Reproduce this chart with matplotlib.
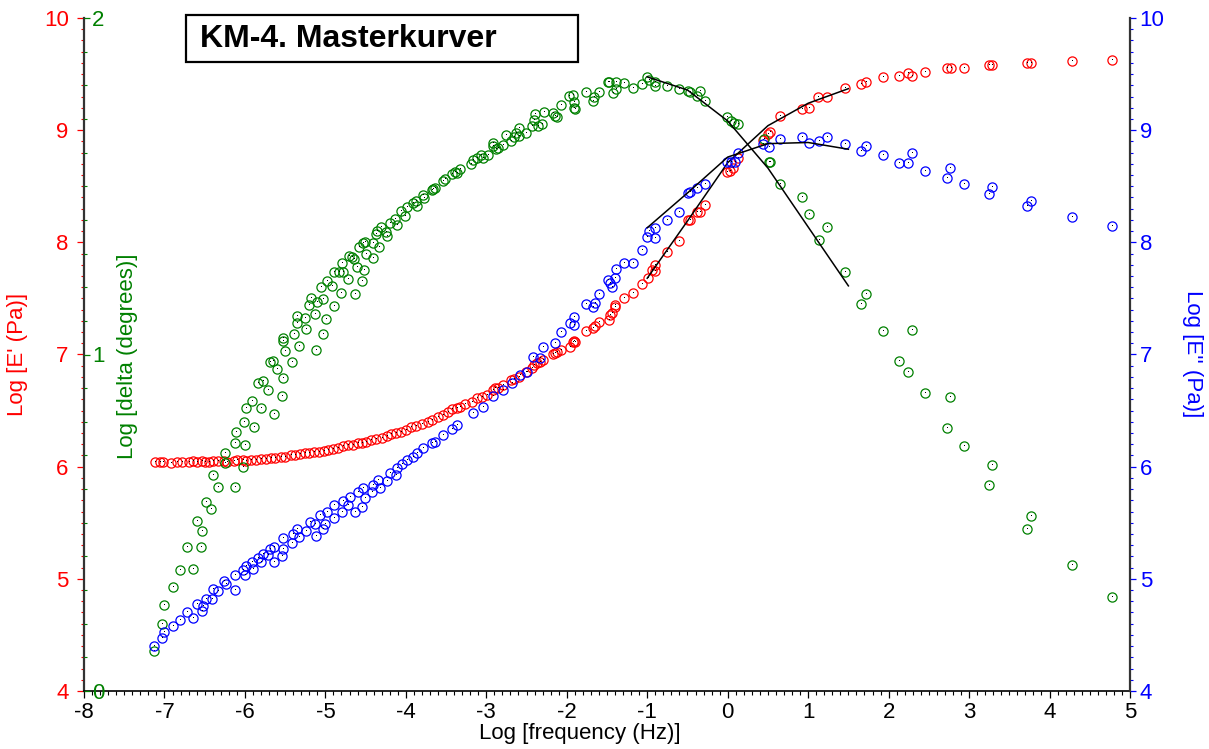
import matplotlib.pyplot as plt
from matplotlib.ticker import MultipleLocator
from matplotlib.patches import Rectangle

plt.rcParams["font.family"] = ["Liberation Sans", "DejaVu Sans"]
plt.rcParams["axes.unicode_minus"] = False

# E' (storage modulus), log Pa
e1_x = [-7.12, -7.05, -7.02, -6.92, -6.85, -6.78, -6.70, -6.64, -6.60, -6.53,
        -6.50, -6.45, -6.40, -6.33, -6.26, -6.22, -6.14, -6.10, -6.02, -5.99,
        -5.92, -5.86, -5.80, -5.74, -5.68, -5.62, -5.55, -5.50, -5.43, -5.38,
        -5.32, -5.25, -5.20, -5.14, -5.08, -5.02, -4.97, -4.90, -4.84, -4.78,
        -4.72, -4.66, -4.60, -4.55, -4.50, -4.43, -4.37, -4.30, -4.24, -4.18,
        -4.12, -4.06, -4.00, -3.93, -3.87, -3.80, -3.73, -3.67, -3.60, -3.54,
        -3.47, -3.43, -3.36, -3.33, -3.26, -3.18, -3.12, -3.05, -2.99, -2.92,
        -2.89, -2.85, -2.79, -2.69, -2.66, -2.59, -2.51, -2.43, -2.41, -2.37,
        -2.33, -2.29, -2.17, -2.15, -2.12, -2.07, -1.96, -1.92, -1.91, -1.90,
        -1.76, -1.67, -1.65, -1.60, -1.47, -1.46, -1.44, -1.40, -1.40, -1.29,
        -1.18, -1.07, -0.99, -0.94, -0.90, -0.90, -0.75, -0.60, -0.49, -0.47,
        -0.38, -0.34, -0.28, -0.01, 0.03, 0.07, 0.13, 0.44, 0.50, 0.53,
        0.65, 0.92, 1.01, 1.12, 1.23, 1.46, 1.66, 1.72, 1.93, 2.13,
        2.24, 2.29, 2.45, 2.72, 2.77, 2.94, 3.25, 3.29, 3.72, 3.77,
        4.28, 4.78]
e1_y = [6.04, 6.04, 6.04, 6.03, 6.04, 6.04, 6.04, 6.05, 6.04, 6.05,
        6.04, 6.04, 6.05, 6.05, 6.05, 6.04, 6.05, 6.06, 6.06, 6.05,
        6.06, 6.06, 6.07, 6.07, 6.08, 6.08, 6.09, 6.09, 6.10, 6.10,
        6.11, 6.12, 6.12, 6.13, 6.13, 6.14, 6.15, 6.16, 6.17, 6.18,
        6.19, 6.19, 6.21, 6.21, 6.22, 6.24, 6.25, 6.26, 6.27, 6.29,
        6.30, 6.31, 6.33, 6.35, 6.36, 6.38, 6.40, 6.42, 6.44, 6.46,
        6.49, 6.51, 6.52, 6.53, 6.56, 6.58, 6.61, 6.62, 6.64, 6.68,
        6.70, 6.70, 6.73, 6.77, 6.78, 6.80, 6.84, 6.88, 6.91, 6.92,
        6.93, 6.95, 7.00, 7.01, 7.02, 7.04, 7.07, 7.11, 7.12, 7.11,
        7.21, 7.24, 7.25, 7.29, 7.31, 7.35, 7.37, 7.42, 7.44, 7.50,
        7.55, 7.63, 7.68, 7.75, 7.74, 7.80, 7.91, 8.01, 8.20, 8.20,
        8.27, 8.27, 8.33, 8.63, 8.64, 8.66, 8.75, 8.91, 8.97, 8.98,
        9.13, 9.19, 9.20, 9.30, 9.30, 9.38, 9.41, 9.43, 9.47, 9.48,
        9.51, 9.48, 9.52, 9.55, 9.55, 9.55, 9.58, 9.58, 9.60, 9.60,
        9.62, 9.63]

# E'' (loss modulus), log Pa
e2_x = [-7.13, -7.03, -7.01, -6.89, -6.81, -6.72, -6.64, -6.60, -6.53, -6.52,
        -6.48, -6.41, -6.40, -6.33, -6.26, -6.24, -6.12, -6.12, -6.02, -6.00,
        -5.99, -5.90, -5.91, -5.84, -5.80, -5.77, -5.71, -5.69, -5.64, -5.64,
        -5.54, -5.53, -5.53, -5.41, -5.40, -5.35, -5.33, -5.24, -5.19, -5.12,
        -5.13, -5.07, -5.03, -5.00, -4.98, -4.89, -4.89, -4.79, -4.78, -4.72,
        -4.69, -4.63, -4.59, -4.54, -4.53, -4.51, -4.42, -4.41, -4.35, -4.32,
        -4.23, -4.20, -4.12, -4.11, -4.05, -3.99, -3.91, -3.86, -3.79, -3.67,
        -3.64, -3.54, -3.43, -3.36, -3.16, -3.04, -2.92, -2.79, -2.68, -2.58,
        -2.49, -2.42, -2.33, -2.29, -2.15, -2.07, -1.96, -1.91, -1.91, -1.76,
        -1.67, -1.65, -1.60, -1.49, -1.46, -1.44, -1.40, -1.39, -1.29, -1.18,
        -1.07, -1.00, -0.98, -0.90, -0.90, -0.75, -0.60, -0.49, -0.47, -0.38,
        -0.28, -0.01, 0.04, 0.09, 0.13, 0.44, 0.51, 0.65, 0.92, 1.01,
        1.13, 1.23, 1.46, 1.66, 1.72, 1.93, 2.13, 2.24, 2.29, 2.45,
        2.72, 2.76, 2.94, 3.25, 3.29, 3.72, 3.77, 4.28, 4.78]
e2_y = [4.40, 4.47, 4.53, 4.58, 4.63, 4.70, 4.65, 4.78, 4.71, 4.76,
        4.82, 4.82, 4.91, 4.89, 4.98, 4.95, 5.03, 4.90, 5.08, 5.03,
        5.11, 5.09, 5.15, 5.19, 5.15, 5.22, 5.21, 5.27, 5.28, 5.15,
        5.20, 5.27, 5.36, 5.32, 5.40, 5.44, 5.37, 5.43, 5.51, 5.38,
        5.49, 5.57, 5.44, 5.49, 5.60, 5.54, 5.66, 5.60, 5.69, 5.66,
        5.73, 5.60, 5.77, 5.64, 5.81, 5.72, 5.77, 5.84, 5.88, 5.81,
        5.87, 5.94, 5.93, 5.99, 6.02, 6.06, 6.09, 6.12, 6.17, 6.21,
        6.22, 6.28, 6.34, 6.37, 6.48, 6.53, 6.63, 6.68, 6.75, 6.82,
        6.84, 6.98, 6.97, 7.07, 7.10, 7.20, 7.28, 7.33, 7.26, 7.45,
        7.42, 7.46, 7.54, 7.66, 7.64, 7.60, 7.68, 7.76, 7.82, 7.82,
        7.93, 8.05, 8.10, 8.04, 8.13, 8.20, 8.27, 8.44, 8.45, 8.48,
        8.52, 8.72, 8.72, 8.72, 8.80, 8.88, 8.85, 8.92, 8.94, 8.89,
        8.90, 8.94, 8.88, 8.81, 8.86, 8.78, 8.71, 8.71, 8.80, 8.64,
        8.57, 8.66, 8.52, 8.43, 8.49, 8.32, 8.37, 8.23, 8.15]

# phase angle, log degrees
delta_x = [-7.13, -7.03, -7.01, -6.89, -6.81, -6.72, -6.64, -6.60, -6.55, -6.53,
           -6.48, -6.42, -6.40, -6.33, -6.25, -6.25, -6.12, -6.12, -6.11, -6.02,
           -6.01, -6.00, -5.99, -5.91, -5.89, -5.84, -5.80, -5.77, -5.71, -5.69,
           -5.65, -5.64, -5.60, -5.54, -5.53, -5.53, -5.53, -5.50, -5.41, -5.39,
           -5.35, -5.35, -5.33, -5.25, -5.24, -5.20, -5.18, -5.13, -5.12, -5.10,
           -5.05, -5.03, -5.03, -4.99, -4.98, -4.92, -4.89, -4.89, -4.83, -4.81,
           -4.79, -4.78, -4.72, -4.71, -4.67, -4.64, -4.63, -4.61, -4.58, -4.54,
           -4.53, -4.52, -4.51, -4.50, -4.41, -4.41, -4.37, -4.36, -4.33, -4.31,
           -4.25, -4.23, -4.20, -4.13, -4.11, -4.06, -4.01, -3.99, -3.91, -3.87,
           -3.86, -3.79, -3.77, -3.67, -3.66, -3.64, -3.54, -3.51, -3.43, -3.39,
           -3.36, -3.33, -3.19, -3.17, -3.12, -3.07, -3.04, -2.98, -2.92, -2.92,
           -2.88, -2.85, -2.79, -2.76, -2.69, -2.66, -2.63, -2.59, -2.59, -2.51,
           -2.43, -2.41, -2.39, -2.36, -2.31, -2.28, -2.17, -2.15, -2.12, -2.07,
           -1.97, -1.92, -1.91, -1.91, -1.90, -1.76, -1.67, -1.66, -1.60, -1.49,
           -1.47, -1.43, -1.39, -1.39, -1.29, -1.18, -1.07, -1.00, -0.98, -0.90,
           -0.90, -0.75, -0.60, -0.49, -0.47, -0.38, -0.34, -0.28, -0.01, 0.04,
           0.08, 0.13, 0.45, 0.51, 0.53, 0.65, 0.92, 1.01, 1.13, 1.23,
           1.46, 1.66, 1.72, 1.93, 2.13, 2.24, 2.29, 2.45, 2.72, 2.76,
           2.94, 3.25, 3.29, 3.72, 3.77, 4.28, 4.78]
delta_y = [0.119, 0.199, 0.256, 0.309, 0.360, 0.428, 0.363, 0.505, 0.428, 0.475,
           0.562, 0.541, 0.642, 0.606, 0.678, 0.707, 0.606, 0.737, 0.770, 0.666,
           0.799, 0.731, 0.841, 0.862, 0.785, 0.915, 0.841, 0.921, 0.895, 0.978,
           0.981, 0.823, 0.957, 0.877, 0.930, 1.050, 1.040, 1.010, 0.978, 1.061,
           1.094, 1.114, 1.025, 1.108, 1.076, 1.147, 1.168, 1.120, 1.013, 1.156,
           1.201, 1.061, 1.165, 1.105, 1.218, 1.204, 1.144, 1.245, 1.245, 1.183,
           1.272, 1.245, 1.224, 1.293, 1.290, 1.284, 1.180, 1.260, 1.319, 1.218,
           1.331, 1.251, 1.334, 1.299, 1.287, 1.331, 1.358, 1.367, 1.319, 1.379,
           1.364, 1.352, 1.391, 1.403, 1.385, 1.426, 1.412, 1.438, 1.450, 1.456,
           1.441, 1.474, 1.465, 1.489, 1.492, 1.495, 1.516, 1.522, 1.536, 1.542,
           1.539, 1.551, 1.566, 1.578, 1.584, 1.593, 1.584, 1.593, 1.620, 1.629,
           1.611, 1.614, 1.623, 1.652, 1.634, 1.646, 1.658, 1.649, 1.673, 1.658,
           1.679, 1.697, 1.715, 1.679, 1.685, 1.721, 1.718, 1.709, 1.706, 1.741,
           1.768, 1.771, 1.750, 1.733, 1.730, 1.780, 1.753, 1.765, 1.780, 1.810,
           1.810, 1.777, 1.789, 1.810, 1.807, 1.792, 1.804, 1.825, 1.816, 1.798,
           1.810, 1.798, 1.789, 1.783, 1.780, 1.768, 1.783, 1.753, 1.706, 1.694,
           1.688, 1.685, 1.640, 1.572, 1.572, 1.507, 1.468, 1.418, 1.340, 1.379,
           1.245, 1.150, 1.180, 1.070, 0.981, 0.948, 1.073, 0.886, 0.782, 0.874,
           0.728, 0.612, 0.672, 0.481, 0.520, 0.374, 0.279]

# fitted curves around the crossover
fit_x = [-1.0, -0.5, 0.0, 0.5, 1.0, 1.5]
fit_e1 = [7.68, 8.19, 8.71, 9.04, 9.24, 9.37]
fit_e2 = [8.13, 8.44, 8.76, 8.88, 8.89, 8.83]
fit_delta = [1.825, 1.786, 1.694, 1.554, 1.379, 1.204]

RED = "#ff0000"
GREEN = "#008000"
BLUE = "#0000ff"
FS = 16

fig = plt.figure(figsize=(12.09, 7.49), dpi=100)
ax = fig.add_axes([84 / 1209, 1 - 691 / 749, 1046 / 1209, 673 / 749])
ax_d = ax.twinx()
ax_b = ax.twinx()


def circles(axis, x, y, color):
    axis.plot(x, y, "o", ms=6.6, mfc="none", mec=color, mew=0.9, ls="none")
    axis.plot(x, y, ",", color="black", ls="none")


circles(ax, e1_x, e1_y, RED)
circles(ax_b, e2_x, e2_y, BLUE)
circles(ax_d, delta_x, delta_y, GREEN)

ax.plot(fit_x, fit_e1, color="black", lw=1.1)
ax_b.plot(fit_x, fit_e2, color="black", lw=1.1)
ax_d.plot(fit_x, fit_delta, color="black", lw=1.1)

# x axis
ax.set_xlim(-8, 5)
ax.xaxis.set_major_locator(MultipleLocator(1))
ax.xaxis.set_minor_locator(MultipleLocator(0.1))
ax.tick_params(axis="x", which="major", length=5, width=0.9, labelsize=FS, pad=3)
ax.tick_params(axis="x", which="minor", length=3, width=0.8)

# E' axis on the left
ax.set_ylim(4, 10)
ax.yaxis.set_major_locator(MultipleLocator(1))
ax.yaxis.set_minor_locator(MultipleLocator(0.1))
ax.tick_params(axis="y", which="major", length=5, width=0.9, colors=RED,
               labelsize=FS, pad=6)
ax.tick_params(axis="y", which="minor", length=2.5, width=0.8, colors=RED)

# delta axis shares the left spine, ticks point inward
ax_d.set_ylim(0, 2)
ax_d.spines["right"].set_position(("axes", 0))
ax_d.yaxis.set_major_locator(MultipleLocator(1))
ax_d.yaxis.set_minor_locator(MultipleLocator(0.1))
ax_d.tick_params(axis="y", which="major", length=4, width=0.9, colors=GREEN,
                 labelsize=FS, pad=2)
ax_d.tick_params(axis="y", which="minor", length=2.5, width=0.8, colors=GREEN)

# E'' axis on the right
ax_b.set_ylim(4, 10)
ax_b.yaxis.set_major_locator(MultipleLocator(1))
ax_b.yaxis.set_minor_locator(MultipleLocator(0.1))
ax_b.tick_params(axis="y", which="major", length=4, width=0.9, colors=BLUE,
                 labelsize=FS, pad=3)
ax_b.tick_params(axis="y", which="minor", length=2.5, width=0.8, colors=BLUE)

for a in (ax, ax_d, ax_b):
    for s in a.spines.values():
        s.set_visible(False)
    a.patch.set_visible(False)
ax.spines["left"].set_visible(True)
ax.spines["bottom"].set_visible(True)
ax_b.spines["right"].set_visible(True)
ax.spines["left"].set_color("#333333")
ax.spines["left"].set_linewidth(1.6)
ax.spines["bottom"].set_linewidth(1.2)
ax_b.spines["right"].set_color("#333333")
ax_b.spines["right"].set_linewidth(1.6)

fig.text(580 / 1209, 1 - 734 / 749, "Log [frequency (Hz)]", ha="center",
         va="center", fontsize=FS)
fig.text(18 / 1209, 1 - 354 / 749, "Log [E' (Pa)]", rotation=90, ha="center",
         va="center", fontsize=FS, color=RED)
fig.text(128 / 1209, 1 - 356 / 749, "Log [delta (degrees)]", rotation=90,
         ha="center", va="center", fontsize=FS, color=GREEN)
fig.text(1192 / 1209, 1 - 354 / 749, "Log [E'' (Pa)]", rotation=270,
         ha="center", va="center", fontsize=FS, color=BLUE)

# title box
fig.patches.append(Rectangle((186 / 1209, 1 - 62 / 749), 392 / 1209, 47 / 749,
                             transform=fig.transFigure, fill=False,
                             edgecolor="black", lw=1.6))
fig.text(200 / 1209, 1 - 39 / 749, "KM-4. Masterkurver", ha="left",
         va="center", fontsize=23, fontweight="bold")

fig.savefig("out.png", dpi=100)
